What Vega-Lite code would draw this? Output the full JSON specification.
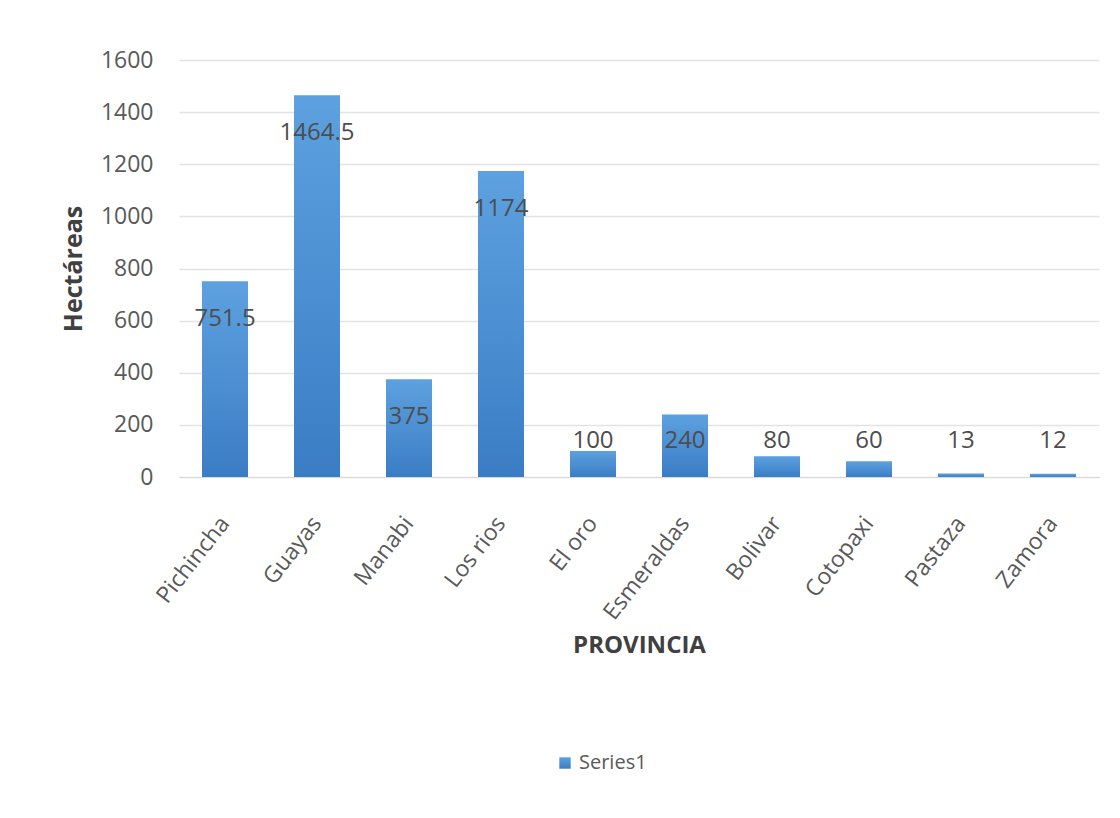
{
  "$schema": "https://vega.github.io/schema/vega-lite/v6.json",
  "autosize": "none",
  "width": 920,
  "height": 417,
  "padding": {"left": 179, "top": 60, "right": 21, "bottom": 341},
  "background": "white",
  "config": {
    "font": "Open Sans",
    "view": {"stroke": null},
    "axis": {"labelColor": "#595959", "titleColor": "#404040", "labelFont": "Open Sans", "titleFont": "Open Sans"}
  },
  "data": {
    "values": [
      {"provincia": "Pichincha", "hectareas": 751.5, "series": "Series1"},
      {"provincia": "Guayas", "hectareas": 1464.5, "series": "Series1"},
      {"provincia": "Manabi", "hectareas": 375, "series": "Series1"},
      {"provincia": "Los rios", "hectareas": 1174, "series": "Series1"},
      {"provincia": "El oro", "hectareas": 100, "series": "Series1"},
      {"provincia": "Esmeraldas", "hectareas": 240, "series": "Series1"},
      {"provincia": "Bolivar", "hectareas": 80, "series": "Series1"},
      {"provincia": "Cotopaxi", "hectareas": 60, "series": "Series1"},
      {"provincia": "Pastaza", "hectareas": 13, "series": "Series1"},
      {"provincia": "Zamora", "hectareas": 12, "series": "Series1"}
    ]
  },
  "encoding": {
    "x": {
      "field": "provincia",
      "type": "nominal",
      "sort": null,
      "scale": {"paddingInner": 0.5, "paddingOuter": 0.25},
      "axis": {
        "title": "PROVINCIA",
        "titleFontSize": 24,
        "titleFontWeight": "bold",
        "titlePadding": 10,
        "labelAngle": -52,
        "labelFontSize": 23,
        "labelPadding": 42,
        "labelBaseline": "middle",
        "ticks": false,
        "domainColor": "#d9d9d9",
        "grid": false
      }
    }
  },
  "layer": [
    {
      "mark": {
        "type": "bar",
        "strokeWidth": 0,
        "fill": {
          "gradient": "linear",
          "x1": 0, "y1": 0, "x2": 0, "y2": 1,
          "stops": [
            {"offset": 0, "color": "#5ea1e0"},
            {"offset": 1, "color": "#3a7dc4"}
          ]
        }
      },
      "encoding": {
        "y": {
          "field": "hectareas",
          "type": "quantitative",
          "scale": {"domain": [0, 1600]},
          "axis": {
            "title": "Hectáreas",
            "titleFontSize": 25,
            "titleFontWeight": "bold",
            "titlePadding": 14,
            "format": "d",
            "values": [0, 200, 400, 600, 800, 1000, 1200, 1400, 1600],
            "labelFontSize": 23,
            "labelPadding": 26,
            "ticks": false,
            "domain": false,
            "gridColor": "#e3e3e3",
            "gridWidth": 1.5
          }
        },
        "stroke": {
          "field": "series",
          "type": "nominal",
          "scale": {"range": ["#4a8ed3"]},
          "legend": {
            "title": null,
            "orient": "none",
            "legendX": 376,
            "legendY": 693,
            "symbolType": "square",
            "symbolFillColor": "#4a8ed3",
            "symbolStrokeWidth": 0,
            "symbolSize": 130,
            "labelFontSize": 20,
            "labelColor": "#595959",
            "labelFont": "Open Sans"
          }
        }
      }
    },
    {
      "mark": {"type": "text", "fontSize": 24, "color": "#4d4d4d", "baseline": "middle", "align": "center"},
      "encoding": {
        "y": {
          "field": "hectareas",
          "type": "quantitative",
          "scale": {"domain": [284, 1746], "range": [381, 0], "clamp": true},
          "axis": null
        },
        "text": {"field": "hectareas", "type": "quantitative"}
      }
    }
  ],
  "resolve": {"scale": {"y": "independent"}}
}
